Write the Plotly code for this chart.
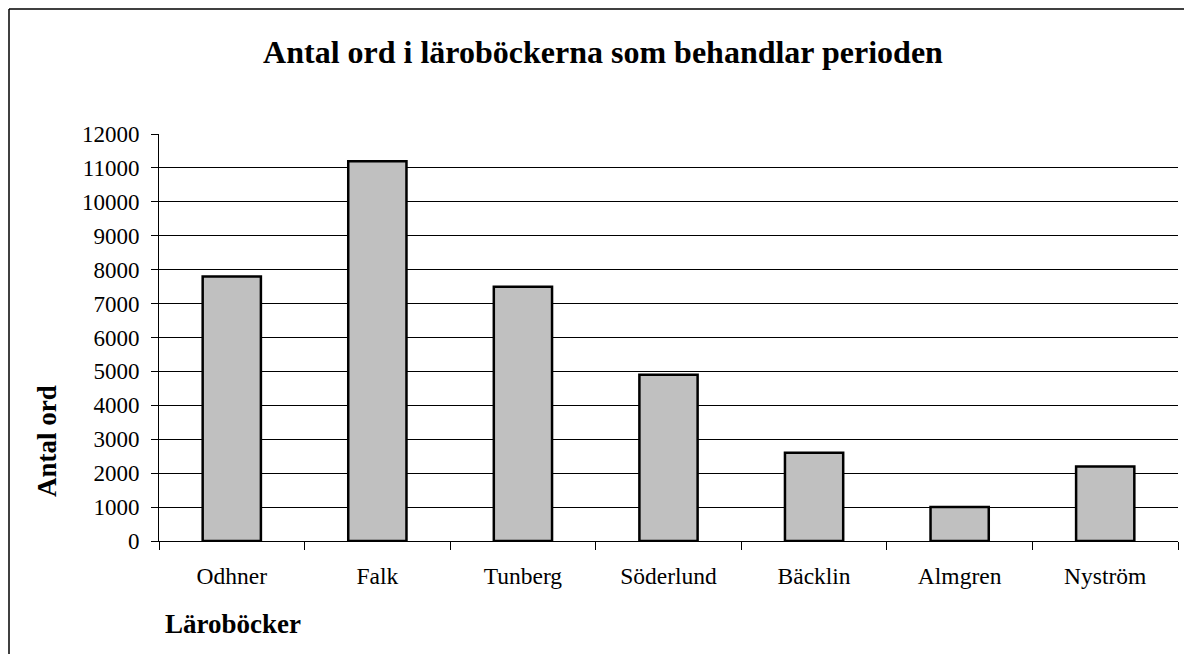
import plotly.graph_objects as go

categories = ["Odhner", "Falk", "Tunberg", "Söderlund", "Bäcklin", "Almgren", "Nyström"]
values = [7800, 11200, 7500, 4900, 2600, 1000, 2200]
y_ticks = list(range(0, 12001, 1000))

# The page body has an 8px margin, so the figure is offset by 8px.
OFF = 8
W, H = 1192 - 2 * OFF, 662 - 2 * OFF
L, T = 159 - OFF, 134 - OFF
R = W - (1178 - OFF)
B = H - (541 - OFF)
pw, ph = W - L - R, H - T - B

def px_x(x):
    return (x - OFF - L) / pw

def px_y(y):
    return (H - B - (y - OFF)) / ph

fig = go.Figure(go.Bar(
    x=categories, y=values,
    marker=dict(color="#c0c0c0", line=dict(color="black", width=2.5)),
))

font = "Liberation Serif, Times New Roman, serif"
fig.update_layout(
    width=W, height=H,
    margin=dict(l=L, r=R, t=T, b=B),
    paper_bgcolor="white", plot_bgcolor="white",
    bargap=0.6,
    showlegend=False,
    font=dict(family=font, size=22, color="black"),
    title=dict(text="<b>Antal ord i läroböckerna som behandlar perioden</b>",
               xref="container", yref="container",
               x=(603 - OFF) / W, xanchor="center", y=1 - (52 - OFF) / H, yanchor="middle",
               font=dict(size=32, family=font)),
    xaxis=dict(showgrid=False, showline=True, linecolor="black", linewidth=1,
               ticks="outside", tickson="boundaries", ticklen=8, tickcolor="black",
               tickfont=dict(size=23.5), ticklabelstandoff=14),
    yaxis=dict(range=[0, 12000], tickvals=y_ticks, tickformat="d", showgrid=True,
               gridcolor="black", gridwidth=1, showline=True, linecolor="black",
               linewidth=1, ticks="outside", ticklen=7, tickcolor="black",
               zeroline=False, tickfont=dict(size=23), ticklabelstandoff=7),
    annotations=[
        dict(text="<b>Antal ord</b>", x=px_x(47), y=px_y(441), xref="paper", yref="paper",
             showarrow=False, textangle=-90, font=dict(size=27, family=font),
             xanchor="center", yanchor="middle"),
        dict(text="<b>Läroböcker</b>", x=px_x(163), y=px_y(624), xref="paper", yref="paper",
             showarrow=False, font=dict(size=27, family=font),
             xanchor="left", yanchor="middle"),
    ],
    shapes=[
        dict(type="line", xref="paper", yref="paper",
             x0=px_x(9), x1=px_x(OFF + W), y0=px_y(9), y1=px_y(9),
             line=dict(color="black", width=1.5)),
        dict(type="line", xref="paper", yref="paper",
             x0=px_x(9), x1=px_x(9), y0=px_y(9), y1=px_y(OFF + H),
             line=dict(color="black", width=1.5)),
    ],
)

fig.write_html("out.html")
